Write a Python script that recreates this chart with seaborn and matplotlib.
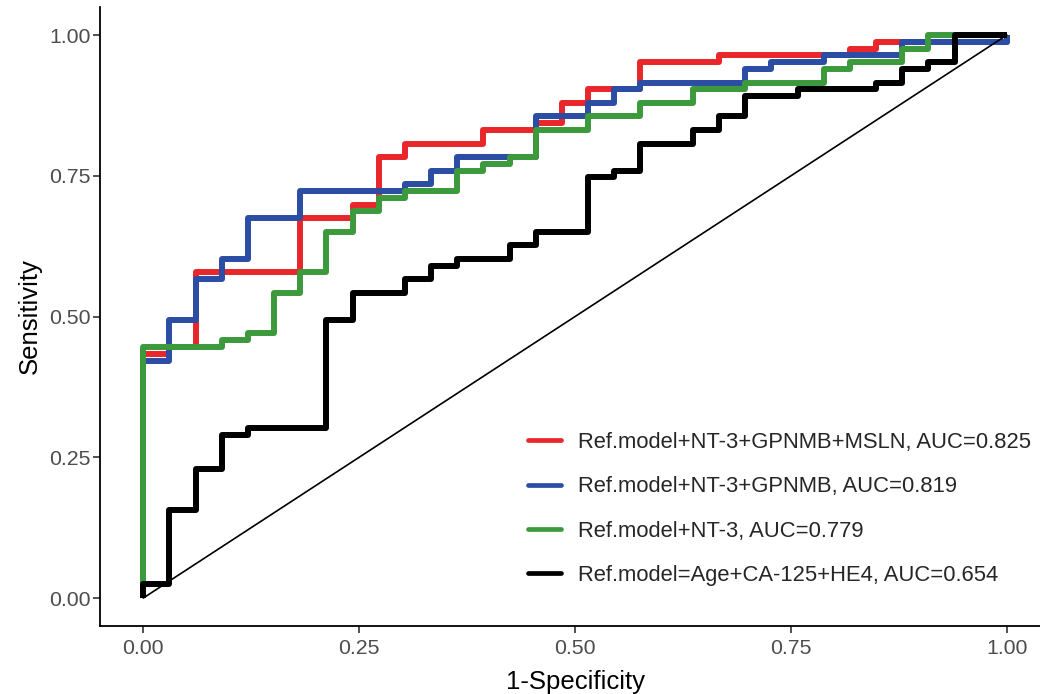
import matplotlib
matplotlib.use("Agg")
import matplotlib.pyplot as plt
from matplotlib.lines import Line2D
import pandas as pd
import seaborn as sns

# Group sizes behind the ROC operating points
n_controls = 33
n_cases = 83

labels = [
    "Ref.model+NT-3+GPNMB+MSLN, AUC=0.825",
    "Ref.model+NT-3+GPNMB, AUC=0.819",
    "Ref.model+NT-3, AUC=0.779",
    "Ref.model=Age+CA-125+HE4, AUC=0.654",
]
colors = ["#E8262B", "#2B4DA3", "#3C9A3C", "#000000"]

# Operating points as counts: false positives among controls, true positives among cases
fp_msln = [0, 0, 1, 2, 6, 8, 9, 10, 13, 15, 16, 17, 19, 22, 27, 28, 33]
tp_msln = [0, 36, 37, 48, 56, 58, 65, 67, 69, 70, 73, 75, 79, 80, 81, 82, 83]

fp_gpnmb = [0, 0, 1, 2, 3, 4, 6, 10, 11, 12, 15, 17, 18, 19, 23, 24, 26, 29, 33]
tp_gpnmb = [0, 35, 41, 47, 50, 56, 60, 61, 63, 65, 71, 73, 75, 76, 78, 79, 80, 82, 83]

fp_nt3 = [0, 0, 3, 4, 5, 6, 7, 8, 9, 10, 12, 13, 14, 15, 17, 19, 21, 23, 26, 27, 29, 30, 33]
tp_nt3 = [0, 37, 38, 39, 45, 48, 54, 57, 59, 60, 63, 64, 65, 69, 71, 73, 75, 76, 78, 79, 81, 83, 83]

fp_ref = [0, 0, 1, 2, 3, 4, 7, 8, 10, 11, 12, 14, 15, 17, 18, 19, 21, 22, 23, 25, 28, 29, 30, 31, 33]
tp_ref = [0, 2, 13, 19, 24, 25, 41, 45, 47, 49, 50, 52, 54, 62, 63, 67, 69, 71, 74, 75, 76, 78, 79, 83, 83]

ticks = [0.0, 0.25, 0.5, 0.75, 1.0]
tick_labels = ["0.00", "0.25", "0.50", "0.75", "1.00"]

frames = []
for lab, fp, tp in zip(labels,
                       [fp_msln, fp_gpnmb, fp_nt3, fp_ref],
                       [tp_msln, tp_gpnmb, tp_nt3, tp_ref]):
    frames.append(pd.DataFrame({
        "fpr": [v / n_controls for v in fp],
        "tpr": [v / n_cases for v in tp],
        "model": lab,
    }))
roc = pd.concat(frames, ignore_index=True)

sns.set_theme(style="ticks")
plt.rcParams["font.family"] = ["Liberation Sans", "DejaVu Sans"]

fig = plt.figure(figsize=(10.4, 6.94), dpi=100)
ax = fig.add_axes([0.0962, 0.0977, 0.9135, 0.8924])

sns.lineplot(
    data=roc, x="fpr", y="tpr", hue="model",
    hue_order=labels, palette=colors,
    estimator=None, sort=True, legend=False,
    drawstyle="steps-post", linewidth=4.3,
    solid_joinstyle="round", solid_capstyle="butt",
    ax=ax,
)

# Chance line
sns.lineplot(x=[0, 1], y=[0, 1], color="black", linewidth=1.2, ax=ax,
             zorder=5)

ax.set_xlim(-0.05, 1.05)
ax.set_ylim(-0.05, 1.05)
ax.set_xticks(ticks)
ax.set_xticklabels(tick_labels)
ax.set_yticks(ticks)
ax.set_yticklabels(tick_labels)

ax.tick_params(axis="both", labelsize=15.3, labelcolor="#4D4D4D",
               color="#333333", width=1.2, length=5)
ax.tick_params(axis="x", pad=4.5)
ax.tick_params(axis="y", pad=2)

for side in ["top", "right"]:
    ax.spines[side].set_visible(False)
for side in ["left", "bottom"]:
    ax.spines[side].set_color("black")
    ax.spines[side].set_linewidth(1.3)

ax.set_xlabel("1-Specificity", fontsize=18.5, color="black", labelpad=8)
ax.set_ylabel("Sensitivity", fontsize=18.5, color="black", labelpad=5)

handles = [Line2D([0], [0], color=c, linewidth=3.4) for c in colors]
ax.legend(handles, labels, loc="upper left",
          bbox_to_anchor=(528 / 1040, 1 - 432 / 694),
          bbox_transform=fig.transFigure,
          frameon=False, fontsize=15.8, handlelength=1.5,
          handletextpad=0.8, labelspacing=1.06, borderpad=0,
          borderaxespad=0)

fig.savefig("out.png", dpi=100)
